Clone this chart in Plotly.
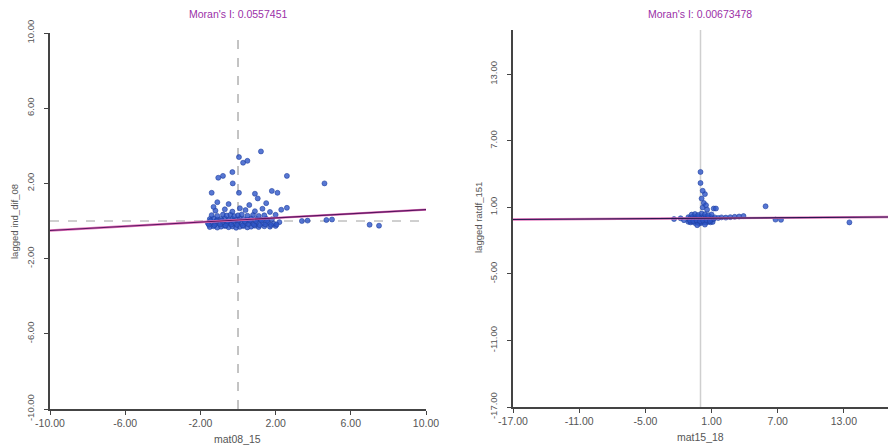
import plotly.graph_objects as go

# ---------------- data ----------------
left_title = "Moran's I: 0.0557451"
right_title = "Moran's I: 0.00673478"
left_xlabel = "mat08_15"
left_ylabel = "lagged ind_dif_08"
right_xlabel = "mat15_18"
right_ylabel = "lagged ratdf_151"

left_ticks = [-10, -6, -2, 2, 6, 10]
left_ticktext = ["-10.00", "-6.00", "-2.00", "2.00", "6.00", "10.00"]
right_ticks = [-17, -11, -5, 1, 7, 13]
right_ticktext = ["-17.00", "-11.00", "-5.00", "1.00", "7.00", "13.00"]

left_x = [-1.5, -1.3, -1.1, -0.9, -0.7, -0.5, -0.3, -0.1, 0.1, 0.3, 0.5, 0.7, 0.9, 1.1, 1.4, 1.7, 2.0,
          -1.6, -1.4, -1.2, -1.0, -0.8, -0.6, -0.4, -0.2, 0.0, 0.2, 0.4, 0.6, 0.8, 1.0, 1.3, 1.6, 1.9, 2.2,
          -1.5, -1.3, -1.1, -0.9, -0.7, -0.5, -0.3, -0.1, 0.1, 0.3, 0.5, 0.7, 1.0, 1.2, 1.5, 1.8,
          -1.4, -1.1, -0.8, -0.6, -0.4, -0.2, 0.0, 0.2, 0.5, 0.8, 1.1, 1.4, 2.0,
          -1.2, -0.7, -0.3, 0.1, 0.4, 0.9, 1.3, 1.7, 2.3,
          -1.55, -1.25, -0.95, -0.65, -0.35, -0.05, 0.25, 0.55, 0.85, 1.15, 1.45, 1.75, 2.05,
          -1.45, -1.15, -0.85, -0.55, -0.25, 0.05, 0.35, 0.65, 0.95, 1.25, 1.55,
          0.05, 1.22, 0.27, 0.5, -0.3, -0.8, -1.05, -0.28, 2.6, 4.6, -1.4, -1.1, 0.05, 0.9, 1.05,
          1.8, 2.1, 2.6, 3.4, 3.7, 4.7, 5.0, 7.0, 7.5, -0.5, 0.6, -1.3, 1.5]
left_y = [-0.32, -0.28, -0.35, -0.30, -0.26, -0.33, -0.29, -0.36, -0.31, -0.27, -0.34, -0.30, -0.25, -0.32, -0.28, -0.30, -0.26,
          -0.12, -0.08, -0.14, -0.10, -0.06, -0.13, -0.09, -0.11, -0.07, -0.12, -0.10, -0.05, -0.13, -0.08, -0.11, -0.09, -0.14, -0.06,
          0.10, 0.13, 0.07, 0.11, 0.14, 0.08, 0.12, 0.09, 0.15, 0.10, 0.06, 0.13, 0.11, 0.08, 0.12, 0.09,
          0.31, 0.27, 0.34, 0.29, 0.33, 0.26, 0.30, 0.35, 0.28, 0.32, 0.27, 0.30, 0.33,
          0.55, 0.62, 0.50, 0.68, 0.58, 0.52, 0.65, 0.48, 0.60,
          -0.20, -0.22, -0.18, -0.24, -0.19, -0.21, -0.23, -0.17, -0.20, -0.22, -0.18, -0.21, -0.19,
          0.02, 0.00, 0.03, -0.01, 0.01, 0.04, -0.02, 0.02, 0.00, 0.03, 0.01,
          3.4, 3.7, 3.1, 3.2, 2.6, 2.4, 2.3, 2.0, 2.4, 2.0, 1.5, 1.0, 1.5, 1.45, 1.2,
          1.6, 1.5, 0.7, 0.0, 0.02, 0.05, 0.08, -0.2, -0.25, 0.9, 0.85, 0.75, 0.95]

left_slope = 0.0557451
left_intercept = 0.05

right_x = [-1.1, -0.9, -0.7, -0.5, -0.3, -0.1, 0.1, 0.3, 0.5, 0.7, 0.9, 1.1,
           -1.0, -0.8, -0.6, -0.4, -0.2, 0.0, 0.2, 0.4, 0.6, 0.8, 1.0, 1.2,
           -1.1, -0.9, -0.7, -0.5, -0.3, -0.1, 0.1, 0.3, 0.5, 0.7, 0.9, 1.3,
           -0.8, -0.5, -0.2, 0.1, 0.4, 0.7, 1.0,
           -0.95, -0.65, -0.35, -0.05, 0.25, 0.55, 0.85,
           -2.4, -1.8, -1.5, 1.6, 1.9, 2.3, 2.7, 3.1, 3.5, 3.9,
           0.2, 0.3, 0.1, 0.4, 0.2, 0.5, 0.6, 1.2, 0.0, 0.0, 1.4,
           5.9, 6.8, 7.3, 13.5, -0.3, 0.4]
right_y = [-0.30, -0.35, -0.28, -0.40, -0.33, -0.45, -0.38, -0.30, -0.36, -0.29, -0.34, -0.31,
           -0.10, -0.05, -0.12, -0.08, -0.14, -0.06, -0.11, -0.09, -0.13, -0.07, -0.10, -0.04,
           0.12, 0.08, 0.15, 0.10, 0.18, 0.09, 0.14, 0.11, 0.16, 0.07, 0.13, 0.10,
           0.35, 0.40, 0.32, 0.45, 0.38, 0.30, 0.36,
           -0.20, -0.22, -0.18, -0.25, -0.21, -0.19, -0.23,
           -0.05, 0.02, -0.15, 0.05, 0.10, 0.08, 0.12, 0.15, 0.18, 0.22,
           1.0, 1.4, 1.8, 2.2, 2.5, 1.2, 0.8, 0.9, 3.2, 4.2, 0.9,
           1.1, -0.1, -0.12, -0.35, -0.6, -0.55]

right_slope = 0.00673478
right_intercept = 0.02

# ---------------- figure ----------------
W, H = 888, 446
FONT = "Liberation Sans, Arial, sans-serif"
TXT = "#555555"
TITLE_C = "#9b30a8"

fig = go.Figure()

def line_pts(lo, hi, slope, intercept):
    return [lo, hi], [slope * lo + intercept, slope * hi + intercept]

marker_style = dict(size=5, color="rgba(45,85,200,0.8)", line=dict(color="#2040a0", width=0.6))

# Left panel
fig.add_trace(go.Scatter(x=[0, 0], y=[-10, 10], mode="lines",
                         line=dict(color="#888888", width=1, dash="dash"),
                         xaxis="x", yaxis="y", showlegend=False, hoverinfo="skip"))
fig.add_trace(go.Scatter(x=[-10, 10], y=[0, 0], mode="lines",
                         line=dict(color="#a0a0a0", width=1, dash="dash"),
                         xaxis="x", yaxis="y", showlegend=False, hoverinfo="skip"))
fig.add_trace(go.Scatter(x=left_x, y=left_y, mode="markers", marker=marker_style,
                         xaxis="x", yaxis="y", showlegend=False))
lx, ly = line_pts(-10, 10, left_slope, left_intercept)
fig.add_trace(go.Scatter(x=lx, y=ly, mode="lines", line=dict(color="#e070b8", width=2.4),
                         xaxis="x", yaxis="y", showlegend=False, hoverinfo="skip"))
fig.add_trace(go.Scatter(x=lx, y=ly, mode="lines", line=dict(color="#5a1560", width=1.1),
                         xaxis="x", yaxis="y", showlegend=False, hoverinfo="skip"))

# Right panel
fig.add_trace(go.Scatter(x=[0, 0], y=[-17, 17], mode="lines",
                         line=dict(color="#cfcfcf", width=1.5),
                         xaxis="x2", yaxis="y2", showlegend=False, hoverinfo="skip"))
fig.add_trace(go.Scatter(x=right_x, y=right_y, mode="markers", marker=marker_style,
                         xaxis="x2", yaxis="y2", showlegend=False))
rx, ry = line_pts(-17, 17, right_slope, right_intercept)
fig.add_trace(go.Scatter(x=rx, y=ry, mode="lines", line=dict(color="#e070b8", width=2.4),
                         xaxis="x2", yaxis="y2", showlegend=False, hoverinfo="skip"))
fig.add_trace(go.Scatter(x=rx, y=ry, mode="lines", line=dict(color="#2a1750", width=1.1),
                         xaxis="x2", yaxis="y2", showlegend=False, hoverinfo="skip"))

axis_common = dict(showgrid=False, zeroline=False, showline=True, linecolor="#444444",
                   linewidth=1.5, ticks="outside", ticklen=4, tickcolor="#444444",
                   automargin=False)
xfont = dict(family=FONT, size=10.5, color=TXT)
yfont = dict(family=FONT, size=9.5, color=TXT)

fig.update_layout(
    width=W, height=H,
    margin=dict(l=0, r=0, t=0, b=0),
    paper_bgcolor="white", plot_bgcolor="white",
    font=dict(family=FONT, size=10, color=TXT),
    xaxis=dict(domain=[50 / W, 426 / W], range=[-10, 10], tickvals=left_ticks,
               ticktext=left_ticktext, anchor="y", tickfont=xfont, **axis_common),
    yaxis=dict(domain=[1 - 409 / H, 1 - 33 / H], range=[-10, 10], tickvals=left_ticks,
               ticktext=left_ticktext, tickangle=-90, anchor="x", ticklabelstandoff=6,
               tickfont=yfont, **axis_common),
    xaxis2=dict(domain=[513 / W, 1.0], range=[-17, 17], tickvals=right_ticks,
                ticktext=right_ticktext, anchor="y2", tickfont=xfont, **axis_common),
    yaxis2=dict(domain=[1 - 407 / H, 1 - 30 / H], range=[-17, 17], tickvals=right_ticks,
                ticktext=right_ticktext, tickangle=-90, anchor="x2", ticklabelstandoff=6,
                tickfont=yfont, **axis_common),
    annotations=[
        dict(text=left_title, x=238 / W, y=1 - 14 / H, xref="paper", yref="paper",
             showarrow=False, font=dict(family=FONT, size=10.5, color=TITLE_C),
             xanchor="center", yanchor="middle"),
        dict(text=right_title, x=700 / W, y=1 - 14 / H, xref="paper", yref="paper",
             showarrow=False, font=dict(family=FONT, size=10.5, color=TITLE_C),
             xanchor="center", yanchor="middle"),
        dict(text=left_xlabel, x=238 / W, y=1 - 439 / H, xref="paper", yref="paper",
             showarrow=False, font=dict(family=FONT, size=10.5, color=TXT),
             xanchor="center", yanchor="middle"),
        dict(text=right_xlabel, x=700 / W, y=1 - 437 / H, xref="paper", yref="paper",
             showarrow=False, font=dict(family=FONT, size=10.5, color=TXT),
             xanchor="center", yanchor="middle"),
        dict(text=left_ylabel, x=14 / W, y=1 - 222 / H, xref="paper", yref="paper",
             showarrow=False, textangle=-90, font=dict(family=FONT, size=9.5, color=TXT),
             xanchor="center", yanchor="middle"),
        dict(text=right_ylabel, x=478 / W, y=1 - 218 / H, xref="paper", yref="paper",
             showarrow=False, textangle=-90, font=dict(family=FONT, size=9.5, color=TXT),
             xanchor="center", yanchor="middle"),
    ],
)

fig.write_html("out.html", config={"displayModeBar": False})

# remove the browser's default page margin so the figure sits at the window origin
with open("out.html", "r", encoding="utf-8") as f:
    html = f.read()
html = html.replace("<head>", "<head><style>html,body{margin:0;padding:0;overflow:hidden;}</style>", 1)
with open("out.html", "w", encoding="utf-8") as f:
    f.write(html)
